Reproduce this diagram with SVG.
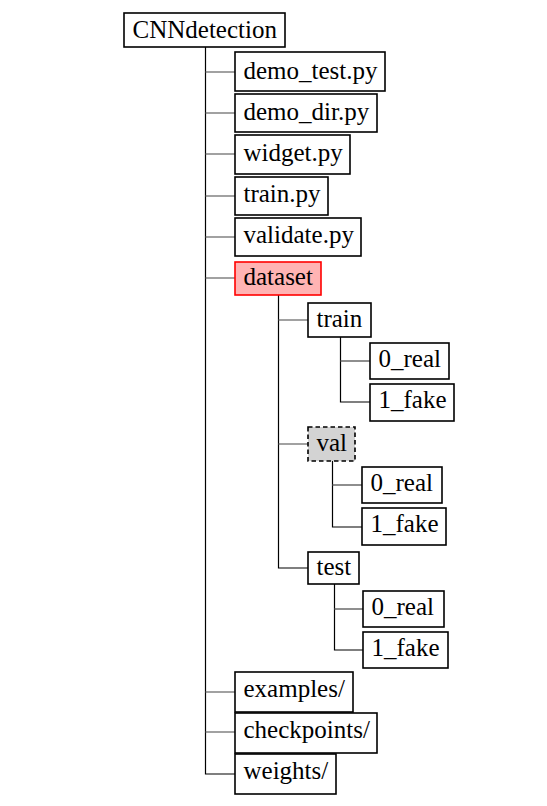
<svg xmlns="http://www.w3.org/2000/svg" width="547" height="806" viewBox="0 0 547 806">
<style>
  .box rect { fill: #fff; stroke: #000; stroke-width: 1.6; }
  .box text { font-family: 'Liberation Serif', 'Times New Roman', serif; font-size: 25px; fill: #000; }
  .red rect { fill: #ffb3b3; stroke: #f00; }
  .dash rect { fill: #d3d3d3; stroke-dasharray: 4.5 3; }
  .v { stroke: #000; stroke-width: 1.2; fill: none; }
  .h { stroke: #444; stroke-width: 1.2; fill: none; }
</style>
<rect width="547" height="806" fill="#fff"/>
<g id="connectors">
  <path class="v" d="M205.5,47 V774 H235"/>
  <path class="h" d="M205,72 H235 M205,113 H235 M205,154 H235 M205,196 H235 M205,237 H235 M205,278 H235 M205,692 H235 M205,732 H235"/>
  <path class="v" d="M278.5,295 V568 H308"/>
  <path class="h" d="M278,320 H308 M278,444 H308"/>
  <path class="v" d="M340.5,337 V402 H370"/>
  <path class="h" d="M340,361 H370"/>
  <path class="v" d="M332.5,461 V527 H362"/>
  <path class="h" d="M332,485 H362"/>
  <path class="v" d="M334.5,584 V650 H363"/>
  <path class="h" d="M334,609 H363"/>
</g>
<g id="n-root" class="box"><rect x="124" y="13" width="161" height="34"/><text x="132.5" y="38">CNNdetection</text></g>
<g id="n-demo_test" class="box"><rect x="235" y="52" width="150" height="39"/><text x="243.5" y="79">demo_test.py</text></g>
<g id="n-demo_dir" class="box"><rect x="235" y="94" width="142" height="38"/><text x="243.5" y="120">demo_dir.py</text></g>
<g id="n-widget" class="box"><rect x="235" y="135" width="115" height="39"/><text x="243.5" y="161">widget.py</text></g>
<g id="n-train_py" class="box"><rect x="235" y="177" width="93" height="38"/><text x="243.5" y="202">train.py</text></g>
<g id="n-validate" class="box"><rect x="235" y="218" width="126" height="38"/><text x="243.5" y="243">validate.py</text></g>
<g id="n-dataset" class="box red"><rect x="235" y="262" width="86" height="33"/><text x="243.5" y="285">dataset</text></g>
<g id="n-train" class="box"><rect x="308" y="303" width="63" height="34"/><text x="316.5" y="327">train</text></g>
<g id="n-train-0" class="box"><rect x="370" y="343" width="79" height="36"/><text x="378.5" y="367">0_real</text></g>
<g id="n-train-1" class="box"><rect x="370" y="384" width="84" height="37"/><text x="378.5" y="408">1_fake</text></g>
<g id="n-val" class="box dash"><rect x="308" y="427" width="47" height="34"/><text x="316.5" y="451">val</text></g>
<g id="n-val-0" class="box"><rect x="362" y="467" width="80" height="36"/><text x="370.5" y="491">0_real</text></g>
<g id="n-val-1" class="box"><rect x="362" y="508" width="84" height="37"/><text x="370.5" y="532">1_fake</text></g>
<g id="n-test" class="box"><rect x="308" y="552" width="51" height="32"/><text x="316.5" y="575">test</text></g>
<g id="n-test-0" class="box"><rect x="363" y="591" width="81" height="36"/><text x="371.5" y="615">0_real</text></g>
<g id="n-test-1" class="box"><rect x="363" y="632" width="85" height="36"/><text x="371.5" y="656">1_fake</text></g>
<g id="n-examples" class="box"><rect x="235" y="672" width="118" height="40"/><text x="243.5" y="697">examples/</text></g>
<g id="n-checkpoints" class="box"><rect x="235" y="713" width="142" height="40"/><text x="243.5" y="738">checkpoints/</text></g>
<g id="n-weights" class="box"><rect x="235" y="754" width="101" height="40"/><text x="243.5" y="779">weights/</text></g>
</svg>
